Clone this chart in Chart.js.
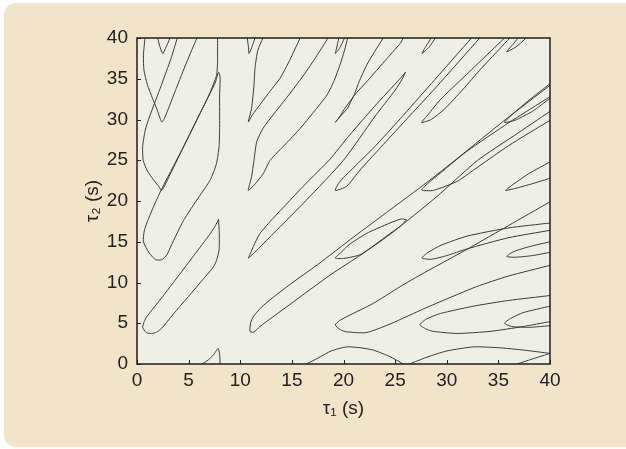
<!DOCTYPE html>
<html><head><meta charset="utf-8">
<script src="https://cdn.jsdelivr.net/npm/chart.js@4"></script>
<style>html,body{margin:0;padding:0;background:#fff;}</style>
</head><body>
<canvas id="c" width="626" height="449"></canvas>
<script>
// axis ticks
const tickValues = [0, 5, 10, 15, 20, 25, 30, 35, 40];
const xTitle = 'τ₁ (s)';
const yTitle = 'τ₂ (s)';

// contour curves, [tau1, tau2] pairs
const vTop0 = [[2.0,40],[2.25,38.8],[2.5,38.1],[2.75,38.7],[3.2,40]];
const lobe0a = [[0.77,40],[0.62,37.8],[0.68,36.0],[1.0,34.3],[1.5,32.6],[1.95,31.2],[2.25,30.1],[2.4,29.7],[2.6,30.0],[3.0,31.2],[3.8,33.8],[4.8,37.0],[5.8,40]];
const lobe0b = [[3.9,40],[3.3,37.5],[2.9,36.1],[2.3,34],[1.7,32],[1.2,30.3],[0.8,28.7],[0.55,26.7],[0.6,25],[1.0,23.7],[1.6,22.6],[2.1,21.8],[2.4,21.3],[3.3,23.5],[4.5,26.6],[5.8,30],[7.0,33],[7.6,34.6],[7.9,35.8],[8.05,35.2],[8.0,33],[8.0,29],[7.95,26.7],[7.7,24.6],[7.1,22.6],[6.0,20.5],[4.5,17.6],[3.3,14.5],[2.9,13.4],[2.4,12.8],[1.8,12.8],[1.2,13.6],[0.62,15.0],[0.7,16.3],[0.95,17.3],[1.6,19.3],[2.4,21.5],[3.5,24.2],[4.6,26.9],[5.9,30.2],[7.0,33.1],[7.7,35.4],[7.8,37],[7.8,40]];
const loop00 = [[7.9,17.75],[7.97,16],[7.95,14],[7.7,12.7],[7.4,11.9],[6.2,10.1],[5,8.3],[3.7,6.4],[2.4,4.4],[1.9,3.9],[1.4,3.75],[0.9,3.85],[0.55,4.5],[0.7,5.2],[0.95,5.8],[2.5,8.3],[4,10.8],[5.5,13.3],[7.1,16.0],[7.6,17.0],[7.9,17.75]];
const base0 = [[6.3,0],[6.9,0.5],[7.4,1.1],[7.85,1.9],[8.0,1.2],[8.05,0]];
const vTop1 = [[10.68,40],[10.8,38.8],[10.85,38.1],[11.1,38.8],[11.43,40]];
const lobe13 = [[12.2,40],[11.7,38.5],[11.43,36.3],[11.33,34.2],[11.1,31.4],[10.78,29.7],[11.2,30.6],[11.9,31.8],[12.9,33.5],[13.85,35.05],[14.8,37.3],[15.8,40]];
const lobe12 = [[18.5,40],[17.5,38],[16.4,35.9],[15.3,34],[14.2,32.2],[13.2,30.6],[12.2,28.9],[11.6,27.3],[11.33,25.0],[11.1,23],[10.94,22.2],[10.78,21.3],[11.3,21.9],[12.2,23.3],[12.9,25.0],[14.4,27],[15.8,28.9],[17.1,30.9],[18.4,33.0],[19.1,34.8],[19.66,36.7],[20.1,38.5],[20.4,40]];
const lobe11 = [[26,35.8],[25.5,35.05],[23,31.6],[20.6,28.1],[18.6,25.0],[16.4,22.2],[13.2,17.9],[11.9,16.0],[11.26,14.4],[11.0,13.6],[10.78,13.0],[11.4,13.7],[13.2,16.0],[16.4,20.1],[20.0,25.0],[23.0,30.3],[25.0,33.6],[25.7,35.0],[26,35.8]];
const lobe10 = [[40,34.2],[35.5,29.8],[31,25.2],[28,22.2],[24.5,18.9],[21,15.6],[17.5,12.2],[15.4,10.3],[13.2,8.2],[12.0,6.9],[11.26,5.8],[11.0,5.0],[10.94,4.0],[11.3,3.9],[11.9,4.6],[14.8,7.3],[18.8,11.0],[21.7,13.4],[24.5,15.9],[29,20.5],[33,25.0],[36.5,28.0],[40,31.0]];
const vTop2 = [[19.55,40],[19.3,38.6],[19.2,38.1],[19.6,38.7],[20.1,40]];
const lobe23 = [[23.85,40],[23.0,38.3],[22.25,36.7],[21.5,34.6],[20.95,32.8],[20.2,31.5],[19.6,30.3],[19.2,29.65],[19.7,30.4],[20.4,31.4],[20.95,32.8],[22.5,35.0],[24.5,37.9],[25.5,39.35],[25.8,40]];
const lobe22 = [[32.4,40],[28.5,34.4],[25.5,30.1],[22.9,26.5],[21.3,24.5],[19.66,22.4],[19.2,21.3],[20.3,21.8],[21.6,23.8],[23.4,26.3],[25.5,29.2],[29,34.0],[33.2,40]];
const lobe21 = [[26.1,17.7],[25.6,17.8],[24.5,17.3],[22.2,16.0],[20.5,14.6],[19.7,13.6],[19.2,13.0],[20.0,12.95],[21.6,13.4],[23,14.6],[24.5,16.0],[25.6,17.0],[26.1,17.7]];
const lobe20 = [[40,19.9],[36,17.0],[32,14.1],[27.4,10.9],[25.5,9.5],[22.9,7.45],[20.3,5.8],[19.6,5.3],[19.2,4.8],[19.7,4.2],[20.3,3.95],[22.2,3.85],[24.5,4.9],[28,6.9],[32.9,9.5],[36,10.8],[40,12.1]];
const vTop3 = [[28.5,40],[28.0,39.0],[27.6,38.1],[28.3,38.9],[28.9,40]];
const lobe33 = [[35.6,40],[34.2,38.3],[31.9,35.5],[29.35,32.4],[28.2,30.6],[27.57,29.65],[28.5,30.0],[29.8,31.3],[31.5,33.6],[33.3,36.2],[35,38.5],[36.1,40]];
const lobe32 = [[40,32.8],[36,29.6],[31.9,26.05],[29.35,23.4],[28.3,22.3],[27.57,21.35],[28.7,21.3],[31,22.4],[32.6,23.8],[36,26.8],[40,29.9]];
const lobe31 = [[40,17.3],[36,16.7],[32,15.7],[29.5,14.6],[28.2,13.7],[27.6,13.0],[28.5,12.85],[30,13.3],[31.9,14.1],[36,15.5],[40,16.4]];
const lobe30 = [[40,8.4],[36,7.8],[32.6,7.1],[29.4,6.2],[28.0,5.5],[27.4,4.8],[28.0,4.3],[28.7,4.0],[31,3.75],[34.2,4.0],[37.4,4.6],[40,5.2]];
const vTop4 = [[36.9,40],[36.4,39.2],[35.8,38.3],[36.7,38.9],[37.7,40]];
const lobe43 = [[40,34.4],[38,32.4],[36.5,30.8],[35.6,29.65],[36.6,29.9],[38.3,31.0],[40,32.6]];
const lobe42 = [[40,24.8],[38,23.4],[36.5,22.1],[35.7,21.3],[36.8,21.6],[38.5,22.2],[40,22.8]];
const lobe41 = [[40,15.0],[38,14.4],[36.5,13.8],[35.8,13.2],[36.6,13.1],[38.3,13.3],[40,13.7]];
const lobe40 = [[40,7.1],[37.4,6.3],[36.2,5.6],[35.6,5.0],[36.3,4.6],[38,4.5],[40,4.7]];
const arch1 = [[16.4,0],[17.5,0.7],[18.8,1.6],[20.3,2.1],[21.6,2.0],[22.9,1.7],[24.5,0.9],[25.8,0]];
const arch2 = [[26.4,0],[28,0.8],[30,1.6],[32.6,2.1],[35,2.0],[37.5,1.7],[40,1.3]];
const arch3 = [[36.8,0],[38.5,0.7],[40,1.3]];

const curves = [vTop0, lobe0a, lobe0b, loop00, base0, vTop1, lobe13, lobe12, lobe11, lobe10,
  vTop2, lobe23, lobe22, lobe21, lobe20, vTop3, lobe33, lobe32, lobe31, lobe30,
  vTop4, lobe43, lobe42, lobe41, lobe40, arch1, arch2, arch3];

const datasets = curves.map(c => ({
  data: c.map(p => ({x: p[0], y: p[1]})),
  showLine: true, pointRadius: 0, borderColor: '#3c3c3c', borderWidth: 1,
  tension: 0.2, fill: false
}));

const decor = {
  id: 'decor',
  beforeDraw(chart) {
    const ctx = chart.ctx, a = chart.chartArea;
    ctx.save();
    ctx.fillStyle = '#ffffff';
    ctx.fillRect(0, 0, chart.width, chart.height);
    ctx.fillStyle = '#f1e4c9';
    ctx.beginPath();
    ctx.roundRect(4, 3, 640, 444, 12);
    ctx.fill();
    ctx.fillStyle = '#eef0e5';
    ctx.fillRect(a.left, a.top, a.right - a.left, a.bottom - a.top);
    ctx.restore();
  },
  afterDatasetsDraw(chart) {
    const ctx = chart.ctx, a = chart.chartArea;
    const xs = chart.scales.x, ys = chart.scales.y;
    ctx.save();
    ctx.strokeStyle = '#222';
    ctx.lineWidth = 1;
    ctx.beginPath();
    xs.ticks.forEach(t => {
      const p = Math.round(xs.getPixelForValue(t.value)) + 0.5;
      ctx.moveTo(p, a.bottom); ctx.lineTo(p, a.bottom - 4);
    });
    ys.ticks.forEach(t => {
      const p = Math.round(ys.getPixelForValue(t.value)) + 0.5;
      ctx.moveTo(a.left, p); ctx.lineTo(a.left + 4, p);
    });
    ctx.stroke();
    ctx.lineWidth = 1.5;
    ctx.strokeStyle = '#1e1e1e';
    ctx.strokeRect(a.left, a.top, a.right - a.left, a.bottom - a.top);
    ctx.restore();
  }
};

const font = {family: '"Liberation Sans", Arial, sans-serif', size: 19};
new Chart(document.getElementById('c'), {
  type: 'scatter',
  data: {datasets},
  options: {
    responsive: false, animation: false, devicePixelRatio: 1,
    layout: {padding: {left: 75, top: 38, right: 76, bottom: 0}},
    plugins: {legend: {display: false}, tooltip: {enabled: false}},
    scales: {
      x: {
        type: 'linear', min: 0, max: 40,
        afterBuildTicks: s => { s.ticks = tickValues.map(v => ({value: v})); },
        afterFit: s => { s.height = 85; },
        grid: {display: false, drawTicks: false},
        border: {display: false},
        ticks: {font, color: '#222', padding: 5, maxRotation: 0},
        title: {display: true, text: xTitle, font, color: '#222', padding: {top: 0, bottom: 29}}
      },
      y: {
        type: 'linear', min: 0, max: 40,
        afterBuildTicks: s => { s.ticks = tickValues.map(v => ({value: v})); },
        afterFit: s => { s.width = 62; },
        grid: {display: false, drawTicks: false},
        border: {display: false},
        ticks: {font, color: '#222', padding: 9},
        title: {display: true, text: yTitle, font, color: '#222', padding: {top: 6, bottom: 0}}
      }
    }
  },
  plugins: [decor]
});
</script>
</body></html>
